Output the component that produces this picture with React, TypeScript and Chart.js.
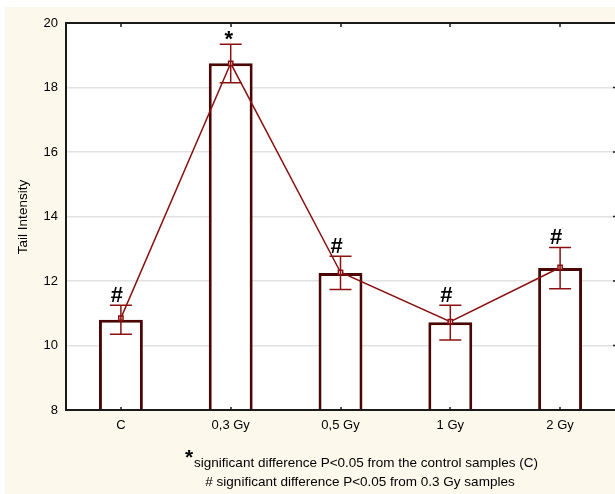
import React, { useEffect, useRef } from "react";
import { Chart, registerables } from "chart.js";

Chart.register(...registerables);

const categories = ["C", "0,3 Gy", "0,5 Gy", "1 Gy", "2 Gy"];
const barValues = [10.8, 18.75, 12.25, 10.72, 12.4];
const meanValues = [10.85, 18.75, 12.27, 10.74, 12.42];
const errorLow = [10.35, 18.15, 11.74, 10.17, 11.76];
const errorHigh = [11.25, 19.34, 12.77, 11.25, 13.04];
const markers = ["#", "*", "#", "#", "#"];
const yTicks = [8, 10, 12, 14, 16, 18, 20];
const yTitle = "Tail Intensity";
const footnote1 = "significant difference P<0.05 from the control samples (C)";
const footnote2 = "# significant difference P<0.05 from 0.3 Gy samples";

const FONT = "'Liberation Sans', Arial, sans-serif";
const LINE_COLOR = "#8b1010";
const BAR_BORDER = "#4a0505";

const decorPlugin = {
  id: "decor",
  beforeDraw(chart: any) {
    const { ctx, chartArea } = chart;
    ctx.save();
    ctx.fillStyle = "#ffffff";
    ctx.fillRect(0, 0, chart.width, chart.height);
    ctx.fillStyle = "#fdf8ec";
    ctx.fillRect(5, 7, chart.width - 5, chart.height - 7);
    ctx.fillStyle = "#ffffff";
    ctx.fillRect(chartArea.left, chartArea.top, chartArea.right - chartArea.left, chartArea.bottom - chartArea.top);
    ctx.restore();
  },
  afterDatasetsDraw(chart: any) {
    const { ctx, chartArea, scales } = chart;
    const xs = scales.x;
    const ys = scales.y;
    ctx.save();
    // error bars
    ctx.strokeStyle = LINE_COLOR;
    ctx.lineWidth = 1.5;
    categories.forEach((_, i) => {
      const x = xs.getPixelForValue(i);
      const yl = ys.getPixelForValue(errorLow[i]);
      const yh = ys.getPixelForValue(errorHigh[i]);
      ctx.beginPath();
      ctx.moveTo(x, yl);
      ctx.lineTo(x, yh);
      ctx.moveTo(x - 11, yl);
      ctx.lineTo(x + 11, yl);
      ctx.moveTo(x - 11, yh);
      ctx.lineTo(x + 11, yh);
      ctx.stroke();
    });
    // significance markers
    ctx.fillStyle = "#000000";
    ctx.textAlign = "center";
    ctx.textBaseline = "alphabetic";
    categories.forEach((_, i) => {
      const x = xs.getPixelForValue(i);
      const yh = ys.getPixelForValue(errorHigh[i]);
      if (markers[i] === "*") {
        ctx.font = `bold 22px ${FONT}`;
        ctx.fillText("*", x - 2, yh + 2);
      } else {
        ctx.font = `bold 22px ${FONT}`;
        ctx.fillText("#", x - 4, yh - 3);
      }
    });
    // axes frame
    ctx.strokeStyle = "#1a1a1a";
    ctx.lineWidth = 2;
    ctx.beginPath();
    ctx.moveTo(chartArea.left, chartArea.top);
    ctx.lineTo(chartArea.right, chartArea.top);
    ctx.moveTo(chartArea.left, chartArea.top - 1);
    ctx.lineTo(chartArea.left, chartArea.bottom + 1);
    ctx.moveTo(chartArea.left, chartArea.bottom);
    ctx.lineTo(chartArea.right, chartArea.bottom);
    ctx.stroke();
    ctx.lineWidth = 1.5;
    ctx.beginPath();
    categories.forEach((_, i) => {
      const x = Math.round(xs.getPixelForValue(i));
      ctx.moveTo(x, chartArea.top);
      ctx.lineTo(x, chartArea.top + 4);
      ctx.moveTo(x, chartArea.bottom);
      ctx.lineTo(x, chartArea.bottom - 3);
    });
    yTicks.forEach((v) => {
      const y = ys.getPixelForValue(v);
      ctx.moveTo(chartArea.right, y);
      ctx.lineTo(chartArea.right - 2, y);
    });
    ctx.stroke();
    // y title
    ctx.fillStyle = "#000000";
    ctx.font = `13.5px ${FONT}`;
    ctx.textAlign = "center";
    ctx.textBaseline = "middle";
    ctx.save();
    ctx.translate(23, 217);
    ctx.rotate(-Math.PI / 2);
    ctx.fillText(yTitle, 0, 0);
    ctx.restore();
    // footnotes
    ctx.font = `13.5px ${FONT}`;
    ctx.textAlign = "left";
    ctx.textBaseline = "middle";
    const w1 = ctx.measureText(footnote1).width;
    const x1 = 366 - w1 / 2;
    ctx.fillText(footnote1, x1, 463);
    ctx.font = `bold 21px ${FONT}`;
    ctx.textAlign = "right";
    ctx.fillText("*", x1 - 1, 458);
    ctx.font = `13.5px ${FONT}`;
    ctx.textAlign = "center";
    ctx.fillText(footnote2, 360, 482);
    ctx.restore();
  },
};

export default function App() {
  const ref = useRef<HTMLCanvasElement>(null);
  useEffect(() => {
    document.body.style.margin = "0";
    document.documentElement.style.overflow = "hidden";
    document.body.style.overflow = "hidden";
    const chart = new Chart(ref.current!, {
      type: "bar",
      data: {
        labels: categories,
        datasets: [
          {
            type: "line",
            data: meanValues,
            borderColor: LINE_COLOR,
            borderWidth: 1.5,
            pointStyle: "rect",
            pointRadius: 3,
            pointBorderWidth: 1.5,
            pointBorderColor: LINE_COLOR,
            pointBackgroundColor: "#ffffff",
            order: 0,
          } as any,
          {
            type: "bar",
            data: barValues,
            backgroundColor: "#ffffff",
            borderColor: BAR_BORDER,
            borderWidth: 3,
            categoryPercentage: 0.4,
            barPercentage: 1,
            order: 1,
          },
        ],
      },
      options: {
        responsive: false,
        animation: false,
        layout: { autoPadding: false, padding: { top: 23, left: 0, right: 0, bottom: 0 } },
        plugins: { legend: { display: false }, tooltip: { enabled: false } },
        scales: {
          x: {
            type: "category",
            offset: true,
            grid: { display: false, drawTicks: false },
            border: { display: false },
            ticks: { color: "#000", font: { family: FONT, size: 13 }, padding: 8 },
            afterFit(s: any) {
              s.height = 84;
            },
          },
          y: {
            min: 8,
            max: 20,
            ticks: { stepSize: 2, color: "#000", font: { family: FONT, size: 13 }, padding: 8 },
            grid: { color: "#e2e2e2", lineWidth: 1.5, drawTicks: false },
            border: { display: false },
            afterFit(s: any) {
              s.width = 66;
            },
          },
        },
      },
      plugins: [decorPlugin],
    });
    return () => chart.destroy();
  }, []);
  return (
    <div style={{ position: "absolute", left: 0, top: 0, width: 615, height: 494, overflow: "hidden" }}>
      <canvas ref={ref} width={615} height={494} style={{ display: "block", width: 615, height: 494 }} />
    </div>
  );
}
